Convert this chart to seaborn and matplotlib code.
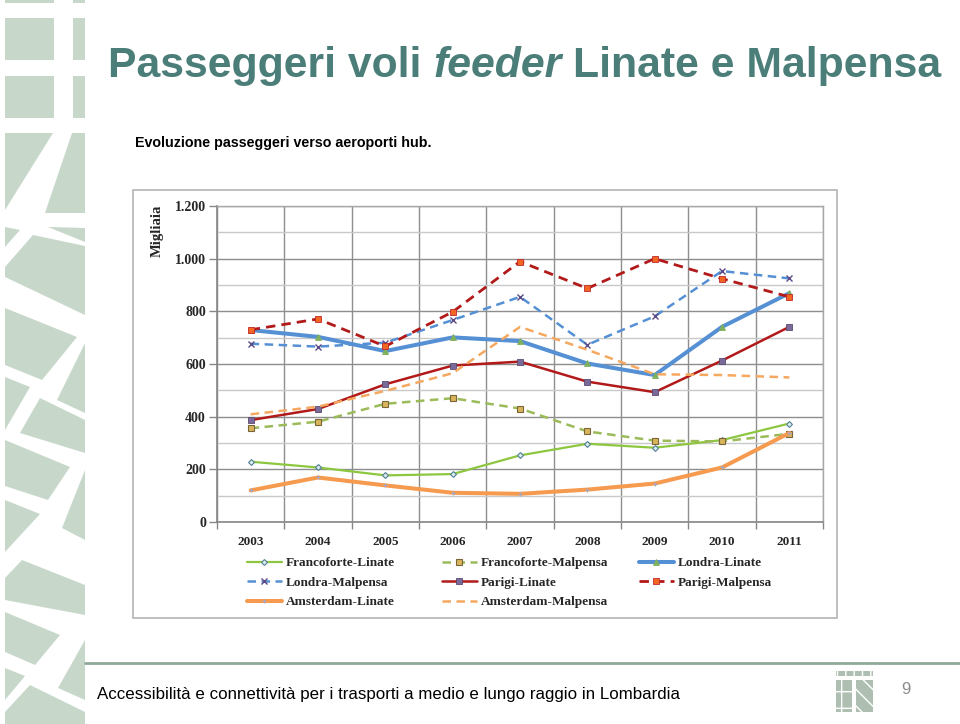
import numpy as np
import pandas as pd
import matplotlib
matplotlib.use("Agg")
import matplotlib.pyplot as plt
from matplotlib.patches import Rectangle, Polygon
from matplotlib.legend import Legend
from matplotlib.ticker import FuncFormatter, MultipleLocator, FixedLocator
import seaborn as sns

# dati (migliaia di passeggeri)
years = [2003, 2004, 2005, 2006, 2007, 2008, 2009, 2010, 2011]
francoforte_linate = [229, 207, 177, 182, 253, 297, 282, 311, 374]
francoforte_malpensa = [356, 381, 449, 470, 431, 344, 309, 306, 335]
londra_linate = [729, 703, 649, 701, 687, 602, 558, 741, 869]
londra_malpensa = [677, 666, 681, 767, 855, 673, 781, 953, 925]
parigi_linate = [387, 429, 523, 594, 609, 533, 493, 613, 741]
parigi_malpensa = [730, 771, 667, 798, 989, 887, 1000, 924, 855]
amsterdam_linate = [120, 169, 139, 111, 107, 123, 146, 207, 338]
amsterdam_malpensa = [409, 438, 498, 565, 741, 654, 561, 558, 549]

tratte = ["Francoforte-Linate", "Francoforte-Malpensa", "Londra-Linate",
          "Londra-Malpensa", "Parigi-Linate", "Parigi-Malpensa",
          "Amsterdam-Linate", "Amsterdam-Malpensa"]
valori = [francoforte_linate, francoforte_malpensa, londra_linate,
          londra_malpensa, parigi_linate, parigi_malpensa,
          amsterdam_linate, amsterdam_malpensa]

df = pd.DataFrame({
    "anno": years * len(tratte),
    "passeggeri": [v for serie in valori for v in serie],
    "tratta": [t for t in tratte for _ in years],
})

dash = (0, (3.4, 2.2))
stili = {
    "Francoforte-Linate": dict(color="#8dc63f", linewidth=1.6, linestyle="-", marker="D",
                               markersize=3, markerfacecolor="#dcecf2", markeredgecolor="#4f7f8f",
                               markeredgewidth=0.8),
    "Francoforte-Malpensa": dict(color="#9bbb59", linewidth=1.8, linestyle=dash, marker="s",
                                 markersize=4.5, markerfacecolor="#d8b45a", markeredgecolor="#7a6538",
                                 markeredgewidth=0.8),
    "Londra-Linate": dict(color="#5590d4", linewidth=2.9, linestyle="-", marker="^",
                          markersize=4, markerfacecolor="#7fb05c", markeredgecolor="#7fb05c",
                          markeredgewidth=0.6),
    "Londra-Malpensa": dict(color="#5590d4", linewidth=1.8, linestyle=dash, marker="x",
                            markersize=4.5, markerfacecolor="#5b4a86", markeredgecolor="#5b4a86",
                            markeredgewidth=1.0),
    "Parigi-Linate": dict(color="#b21a1a", linewidth=1.8, linestyle="-", marker="s",
                          markersize=4, markerfacecolor="#7a6a9a", markeredgecolor="#5a4a70",
                          markeredgewidth=0.6),
    "Parigi-Malpensa": dict(color="#b21a1a", linewidth=2.0, linestyle=dash, marker="s",
                            markersize=4.5, markerfacecolor="#f26522", markeredgecolor="#c0282a",
                            markeredgewidth=0.6),
    "Amsterdam-Linate": dict(color="#f59a4e", linewidth=2.9, linestyle="-", marker="+",
                             markersize=3.5, markerfacecolor="#a0a8c8", markeredgecolor="#a0a8c8",
                             markeredgewidth=0.8),
    "Amsterdam-Malpensa": dict(color="#f5a860", linewidth=1.8, linestyle=dash, marker=None),
}

sns.set_style("white")
plt.rcParams["font.family"] = ["Liberation Serif", "DejaVu Serif"]
plt.rcParams["font.weight"] = "bold"

fig = plt.figure(figsize=(9.6, 7.24), dpi=100)

# sfondo della slide in pixel
bg = fig.add_axes([0, 0, 1, 1], zorder=0)
bg.set_xlim(0, 960)
bg.set_ylim(724, 0)
bg.axis("off")

salvia = "#c7d8cb"
forme = [
    [(5, 0), (54, 0), (54, 3), (5, 3)], [(73, 0), (85, 0), (85, 3), (73, 3)],
    [(5, 18), (54, 18), (54, 60), (5, 60)], [(73, 18), (85, 18), (85, 60), (73, 60)],
    [(5, 76), (54, 76), (54, 118), (5, 118)], [(73, 76), (85, 76), (85, 118), (73, 118)],
    [(5, 133), (53, 133), (5, 210)],
    [(72, 133), (85, 133), (85, 213), (45, 213)],
    [(5, 227), (20, 230), (5, 247)],
    [(48, 227), (85, 228), (85, 242)],
    [(33, 235), (85, 246), (85, 315), (5, 277), (5, 267)],
    [(5, 308), (77, 337), (42, 380), (5, 365)],
    [(85, 343), (85, 413), (57, 400)],
    [(5, 377), (30, 387), (5, 430)],
    [(40, 398), (85, 420), (85, 453), (20, 433)],
    [(5, 440), (70, 467), (48, 500), (5, 486)],
    [(85, 470), (85, 540), (62, 528)],
    [(5, 500), (40, 514), (5, 552)],
    [(22, 560), (85, 585), (85, 615), (5, 600), (5, 578)],
    [(5, 612), (60, 635), (35, 665), (5, 652)],
    [(85, 640), (85, 700), (58, 688)],
    [(5, 668), (25, 676), (5, 700)],
    [(30, 685), (85, 712), (85, 724), (5, 724), (5, 712)],
]
for f in forme:
    bg.add_patch(Polygon(f, closed=True, facecolor=salvia, edgecolor="none"))

# cornice del grafico
bg.add_patch(Rectangle((133, 190), 704, 428, fill=False, edgecolor="#b4b4b4", linewidth=1.2))

# linea e logo a piè di pagina
bg.plot([85, 960], [663, 663], color="#8fa99a", linewidth=2)
logo = "#aebfb2"
bg.add_patch(Rectangle((836, 671), 37, 5, facecolor=logo, edgecolor="white", hatch="||", linewidth=0))
bg.add_patch(Rectangle((836, 680), 16, 32, facecolor=logo, edgecolor="white", hatch="+", linewidth=0))
bg.add_patch(Rectangle((856, 680), 17, 32, facecolor=logo, edgecolor="white", hatch="\\\\", linewidth=0))
bg.text(906, 690, "9", color="#8c8c8c", fontsize=12, family="Liberation Sans",
        weight="normal", ha="center", va="center")

renderer = fig.canvas.get_renderer()


def place_row(parts, x0, y, target, size, **kw):
    objs = [bg.text(x0, y, s, fontsize=size, va="center", ha="left", **kw, **extra)
            for s, extra in parts]

    def widths(sz):
        w = [o.get_window_extent(renderer).width for o in objs]
        gap = 0.278 * sz * 100 / 72
        return w, gap, sum(w) + gap * (len(objs) - 1)

    w, gap, tot = widths(size)
    size = size * target / tot
    for o in objs:
        o.set_fontsize(size)
    w, gap, tot = widths(size)
    x = x0
    for o, wi in zip(objs, w):
        o.set_x(x)
        x += wi + gap


teal = "#4b7e78"
place_row([("Passeggeri voli", {}), ("feeder", {"style": "italic"}), ("Linate e Malpensa", {})],
          108, 66, 835, 30, color=teal, family="Liberation Sans", weight="bold")
place_row([("Evoluzione passeggeri verso aeroporti hub.", {})],
          135, 143, 298, 11, color="black", family="Liberation Sans", weight="bold")
place_row([("Accessibilità e connettività per i trasporti a medio e lungo raggio in Lombardia", {})],
          97, 695, 575, 11, color="black", family="Liberation Sans", weight="normal")

bg.text(157, 231, "Migliaia", rotation=90, ha="center", va="center", fontsize=10.5,
        weight="bold", family="Liberation Serif")

# grafico
ax = fig.add_axes([217 / 960, 1 - 522 / 724, 606 / 960, 316 / 724], zorder=1)
ax.set_facecolor("white")
for nome in tratte:
    sns.lineplot(data=df[df["tratta"] == nome], x="anno", y="passeggeri", ax=ax,
                 label=nome, errorbar=None, **stili[nome])

ax.set_xlim(2002.5, 2011.5)
ax.set_ylim(0, 1200)
ax.set_xlabel("")
ax.set_ylabel("")
ax.set_xticks(years)
ax.xaxis.set_minor_locator(FixedLocator(np.arange(2002.5, 2012, 1)))
ax.yaxis.set_major_locator(MultipleLocator(200))
ax.yaxis.set_minor_locator(MultipleLocator(100))
ax.yaxis.set_major_formatter(FuncFormatter(lambda v, p: f"{v:,.0f}".replace(",", ".")))

ax.set_axisbelow(True)
ax.grid(which="major", axis="y", color="#8e8e8e", linewidth=1.0)
ax.grid(which="minor", axis="y", color="#c9c9c9", linewidth=1.0)
ax.grid(which="minor", axis="x", color="#8e8e8e", linewidth=1.0)
ax.grid(False, which="major", axis="x")

ax.tick_params(axis="y", which="major", length=6, width=1, color="#868686", pad=2,
               labelsize=10, left=True)
ax.tick_params(axis="y", which="minor", length=0)
ax.tick_params(axis="x", which="major", length=0, pad=10, labelsize=9.5)
ax.tick_params(axis="x", which="minor", length=5, width=1, color="#868686", bottom=True)

for lato in ["left", "bottom"]:
    ax.spines[lato].set_color("#868686")
    ax.spines[lato].set_linewidth(1.2)
for lato in ["top", "right"]:
    ax.spines[lato].set_color("#a8a8a8")
    ax.spines[lato].set_linewidth(1.0)

handles, labels = ax.get_legend_handles_labels()
mappa = dict(zip(labels, handles))
ax.get_legend().remove()

colonne = [
    (247, ["Francoforte-Linate", "Londra-Malpensa", "Amsterdam-Linate"]),
    (442, ["Francoforte-Malpensa", "Parigi-Linate", "Amsterdam-Malpensa"]),
    (639, ["Londra-Linate", "Parigi-Malpensa"]),
]
prop = dict(family="Liberation Serif", weight="bold", size=9.5)
for x0, nomi in colonne:
    leg = Legend(ax, [mappa[n] for n in nomi], nomi, loc="upper left",
                 bbox_to_anchor=(x0 / 960, 1 - 557 / 724), bbox_transform=fig.transFigure,
                 frameon=False, prop=prop, handlelength=2.65, handletextpad=0.3,
                 labelspacing=0.55, borderpad=0, borderaxespad=0, numpoints=1)
    ax.add_artist(leg)

fig.savefig("out.png", dpi=100)
